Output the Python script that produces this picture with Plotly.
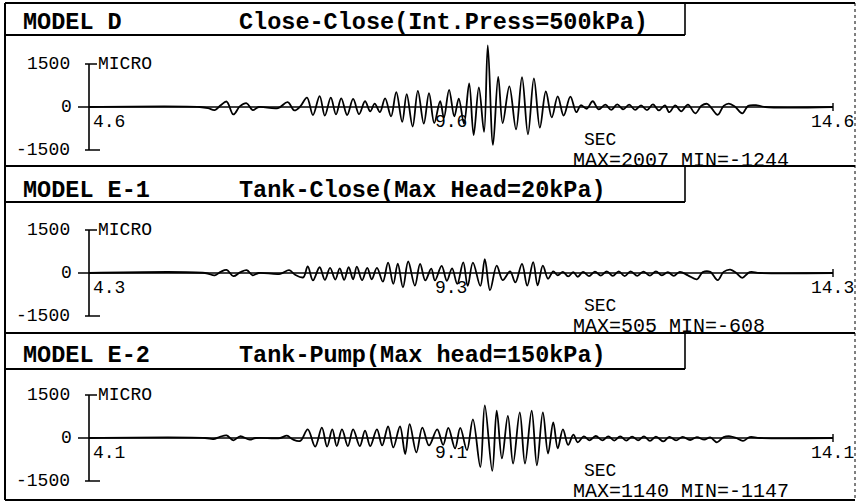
import plotly.graph_objects as go

# ---------------- data ----------------
models = ["MODEL D", "MODEL E-1", "MODEL E-2"]
titles = ["Close-Close(Int.Press=500kPa)",
          "Tank-Close(Max Head=20kPa)",
          "Tank-Pump(Max head=150kPa)"]
t_start = [4.6, 4.3, 4.1]          # sec at left end of each record
t_span = 10.0                       # sec shown
stat_max = [2007, 505, 1140]
stat_min = [-1244, -608, -1147]
y_label = 1500                      # MICRO

# elapsed time (s) and strain (micro)
d_elapsed = [0, 1.49, 1.60, 1.69, 1.77, 1.85, 1.94, 2.03, 2.12, 2.20,
             2.28, 2.54, 2.67, 2.76, 2.84, 2.93, 3.01, 3.10, 3.17, 3.25,
             3.32, 3.39, 3.47, 3.55, 3.63, 3.71, 3.78, 3.84, 3.91, 3.98,
             4.06, 4.13, 4.21, 4.27, 4.35, 4.42, 4.50, 4.57, 4.64, 4.72,
             4.77, 4.84, 4.91, 4.97, 5.04, 5.11, 5.17, 5.24, 5.31, 5.36,
             5.43, 5.50, 5.56, 5.65, 5.74, 5.82, 5.90, 5.98, 6.06, 6.14,
             6.22, 6.30, 6.38, 6.47, 6.55, 6.61, 6.69, 6.77, 6.85, 6.94,
             7.02, 7.10, 7.18, 7.26, 7.34, 7.42, 7.50, 7.58, 7.66, 7.74,
             7.80, 7.88, 7.96, 8.05, 8.15, 8.23, 8.31, 8.37, 8.45, 8.53,
             8.60, 8.68, 8.78, 8.86, 8.98, 9.09, 10.0]
d_strain = [0, 0, -40, -110, 60, 190, -260, 30, 130, -110,
            0, -40, 170, -120, 20, 330, -280, 380, -300, 330,
            -260, 300, -280, 280, -250, 200, -150, 120, -180, 300,
            -330, 520, -520, 450, -680, 560, -580, 480, -560, 200,
            -380, 600, -330, 290, -580, 820, -980, 680, -870, 2150,
            -1320, 1050, -560, 720, -780, 1040, -950, 1000, -720, 540,
            -360, 370, -300, 360, -180, 60, -60, 200, -80, 80,
            -100, 90, -80, 80, -100, 60, -110, 90, -120, 60,
            -180, 60, -150, 80, -220, 40, 110, -50, -270, 40,
            120, 20, -220, 40, 60, 0, 0]

e1_elapsed = [0, 1.56, 1.69, 1.77, 1.85, 1.94, 2.03, 2.12, 2.20, 2.28,
              2.57, 2.69, 2.77, 2.88, 2.94, 3.01, 3.10, 3.17, 3.24, 3.31,
              3.37, 3.43, 3.49, 3.55, 3.60, 3.67, 3.74, 3.80, 3.87, 3.95,
              4.02, 4.09, 4.15, 4.22, 4.29, 4.38, 4.45, 4.52, 4.60, 4.65,
              4.74, 4.81, 4.88, 4.95, 5.03, 5.09, 5.16, 5.26, 5.32, 5.39,
              5.48, 5.56, 5.66, 5.73, 5.82, 5.89, 5.97, 6.03, 6.10, 6.17,
              6.24, 6.30, 6.37, 6.44, 6.51, 6.57, 6.64, 6.72, 6.80, 6.88,
              6.96, 7.04, 7.12, 7.20, 7.28, 7.37, 7.45, 7.54, 7.62, 7.70,
              7.78, 7.86, 7.94, 8.05, 8.17, 8.25, 8.35, 8.45, 8.53, 8.62,
              8.70, 8.78, 8.88, 9.02, 10.0]
e1_strain = [0, 0, -80, 40, 110, -110, 20, 100, -80, 0,
             -30, 100, -60, -150, 230, -260, 200, -240, 180, -230,
             160, -240, 200, -220, 220, -250, 180, -220, 180, -300,
             360, -380, 330, -500, 400, -440, 320, -260, 150, -260,
             250, -270, 160, -380, 370, -450, 360, -450, 480, -600,
             260, -250, 60, -330, 320, -440, 380, -430, 260, -200,
             60, -80, 40, -120, 30, -130, 40, -110, 50, -90,
             60, -100, 60, -110, 60, -100, 50, -90, 60, -80,
             30, -100, 40, -80, -220, 30, 40, -250, 40, 120,
             0, -170, 30, 0, 0]

e2_elapsed = [0, 1.56, 1.67, 1.76, 1.85, 1.94, 2.03, 2.16, 2.24, 2.57,
              2.66, 2.74, 2.84, 2.94, 3.04, 3.13, 3.20, 3.27, 3.33, 3.40,
              3.48, 3.55, 3.64, 3.71, 3.78, 3.87, 3.94, 4.02, 4.09, 4.18,
              4.25, 4.31, 4.40, 4.48, 4.57, 4.68, 4.76, 4.83, 4.92, 4.99,
              5.08, 5.16, 5.26, 5.32, 5.42, 5.48, 5.55, 5.63, 5.70, 5.79,
              5.86, 5.95, 6.02, 6.10, 6.17, 6.24, 6.30, 6.37, 6.44, 6.51,
              6.57, 6.65, 6.73, 6.81, 6.90, 6.98, 7.06, 7.14, 7.22, 7.30,
              7.38, 7.46, 7.54, 7.62, 7.72, 7.80, 7.89, 7.98, 8.08, 8.17,
              8.27, 8.35, 8.44, 8.53, 8.62, 8.70, 8.79, 8.88, 9.02, 10.0]
e2_strain = [0, 0, -40, 40, 90, -80, 60, -60, 0, 0,
             80, -50, -100, 300, -300, 360, -300, 300, -280, 300,
             -280, 300, -280, 260, -280, 300, -260, 400, -330, 400,
             -560, 480, -500, 360, -260, 300, -240, 350, -360, 350,
             -420, 650, -1010, 1140, -1147, 950, -710, 770, -890, 890,
             -890, 950, -950, 890, -540, 540, -360, 300, -240, 120,
             -150, 60, -80, 70, -80, 60, -90, 60, -90, 50,
             -80, 60, -100, 50, -120, 40, -80, 40, -70, 30,
             -60, 20, -150, 30, 60, 0, -100, 30, 0, 0]

elapsed = [d_elapsed, e1_elapsed, e2_elapsed]
strain = [d_strain, e1_strain, e2_strain]

# ---------------- layout constants (pixels) ----------------
W, H = 858, 502
PPU = 0.0287                     # px per micro-strain
X0_PX, X1_PX = 89, 833           # plot x extent
zero_px = [107, 273, 438]
y_ranges = [(-1700, 2400), (-1700, 1700), (-1700, 1700)]
panel_top = [3, 166, 333]
hdr_bottom = [35, 202, 369]
hdr_text_y = [23, 190, 355]
HDR_RIGHT = 685
LEFT, RIGHT, BOTTOM = 5, 855, 500

MONO = "Liberation Mono"
INK = "black"


def px(xp):
    return xp / W


def py(yp):
    return 1 - yp / H


fig = go.Figure()
shapes = []
annots = []
dom_w = X1_PX - X0_PX

for i in range(3):
    sfx = "" if i == 0 else str(i + 1)
    xa, ya = "x" + sfx, "y" + sfx
    lo, hi = y_ranges[i]
    top = zero_px[i] - hi * PPU
    bot = zero_px[i] - lo * PPU
    fig.add_trace(go.Scatter(
        x=[t_start[i] + e for e in elapsed[i]], y=strain[i],
        mode="lines", xaxis=xa, yaxis=ya, showlegend=False, hoverinfo="skip",
        line=dict(color=INK, width=1.8, shape="spline", smoothing=1.0)))
    fig.layout["xaxis" + sfx] = dict(domain=[px(X0_PX), px(X1_PX)],
                                     range=[t_start[i], t_start[i] + t_span],
                                     anchor=ya, visible=False, fixedrange=True)
    fig.layout["yaxis" + sfx] = dict(domain=[py(bot), py(top)], range=[lo, hi],
                                     anchor=xa, visible=False, fixedrange=True)
    xd = xa + " domain"
    # zero (time) axis
    shapes.append(dict(type="line", xref=xd, yref=ya, x0=-11 / dom_w, x1=1, y0=0, y1=0,
                       line=dict(color=INK, width=1.6)))
    shapes.append(dict(type="line", xref=xd, yref=ya, x0=1, x1=1, y0=-140, y1=140,
                       line=dict(color=INK, width=1.4)))
    # strain axis
    shapes.append(dict(type="line", xref=xd, yref=ya, x0=0, x1=0, y0=-y_label, y1=y_label,
                       line=dict(color=INK, width=1.6)))
    shapes.append(dict(type="line", xref=xd, yref=ya, x0=-4 / dom_w, x1=8 / dom_w,
                       y0=y_label, y1=y_label, line=dict(color=INK, width=1.6)))
    shapes.append(dict(type="line", xref=xd, yref=ya, x0=-4 / dom_w, x1=11 / dom_w,
                       y0=-y_label, y1=-y_label, line=dict(color=INK, width=1.6)))

    f_lab = dict(family=MONO, size=18, color=INK)
    f_stat = dict(family=MONO, size=20, color=INK)
    common = dict(xref=xd, yref=ya, showarrow=False, yanchor="middle")
    annots += [
        dict(text=str(y_label), x=0, y=y_label, xanchor="right", xshift=-17, font=f_lab, **common),
        dict(text="MICRO", x=0, y=y_label, xanchor="left", xshift=7, font=f_lab, **common),
        dict(text="0", x=0, y=0, xanchor="right", xshift=-15, font=f_lab, **common),
        dict(text=str(-y_label), x=0, y=-y_label, xanchor="right", xshift=-17, font=f_lab, **common),
        dict(text=f"{t_start[i]:.1f}", x=0, y=0, xanchor="left", xshift=2, yshift=-15,
             font=f_lab, **common),
        dict(text=f"{t_start[i] + t_span / 2:.1f}", x=0.5, y=0, xanchor="center",
             xshift=-10, yshift=-15, font=f_lab, **common),
        dict(text=f"{t_start[i] + t_span:.1f}", x=1, y=0, xanchor="right",
             xshift=23, yshift=-15, font=f_lab, **common),
        dict(text="SEC", x=(600 - X0_PX) / dom_w, y=0, xanchor="center", yshift=-33,
             font=f_lab, **common),
        dict(text=f"MAX={stat_max[i]} MIN={stat_min[i]}", x=(571 - X0_PX) / dom_w, y=0,
             xanchor="left", yshift=-53, font=f_stat, **common),
    ]

    # header
    f_hdr = dict(family=MONO, size=23.5, color=INK, weight="bold")
    annots.append(dict(text=models[i], xref="paper", yref="paper", x=px(21), y=py(hdr_text_y[i]),
                       xanchor="left", yanchor="middle", showarrow=False, font=f_hdr))
    annots.append(dict(text=titles[i], xref="paper", yref="paper", x=px(237), y=py(hdr_text_y[i]),
                       xanchor="left", yanchor="middle", showarrow=False, font=f_hdr))
    shapes.append(dict(type="line", xref="paper", yref="paper", x0=px(LEFT), x1=px(HDR_RIGHT),
                       y0=py(hdr_bottom[i]), y1=py(hdr_bottom[i]), line=dict(color=INK, width=2)))
    shapes.append(dict(type="line", xref="paper", yref="paper", x0=px(HDR_RIGHT), x1=px(HDR_RIGHT),
                       y0=py(panel_top[i]), y1=py(hdr_bottom[i]), line=dict(color=INK, width=1.6)))
    # panel top rule
    shapes.append(dict(type="line", xref="paper", yref="paper", x0=px(LEFT), x1=px(RIGHT),
                       y0=py(panel_top[i]), y1=py(panel_top[i]), line=dict(color=INK, width=2)))

# outer frame
shapes.append(dict(type="line", xref="paper", yref="paper", x0=px(LEFT), x1=px(LEFT),
                   y0=py(panel_top[0]), y1=py(BOTTOM), line=dict(color=INK, width=2)))
shapes.append(dict(type="line", xref="paper", yref="paper", x0=px(LEFT), x1=px(RIGHT),
                   y0=py(BOTTOM), y1=py(BOTTOM), line=dict(color=INK, width=2)))
shapes.append(dict(type="line", xref="paper", yref="paper", x0=px(RIGHT), x1=px(RIGHT),
                   y0=py(panel_top[0]), y1=py(BOTTOM), line=dict(color=INK, width=1, dash="dot")))

fig.update_layout(width=W, height=H, margin=dict(l=0, r=0, t=0, b=0),
                  paper_bgcolor="white", plot_bgcolor="rgba(0,0,0,0)",
                  shapes=shapes, annotations=annots, showlegend=False)
fig.write_html("out.html", config={"displayModeBar": False, "staticPlot": True},
               post_script="document.body.style.margin='0';document.body.style.overflow='hidden';")
